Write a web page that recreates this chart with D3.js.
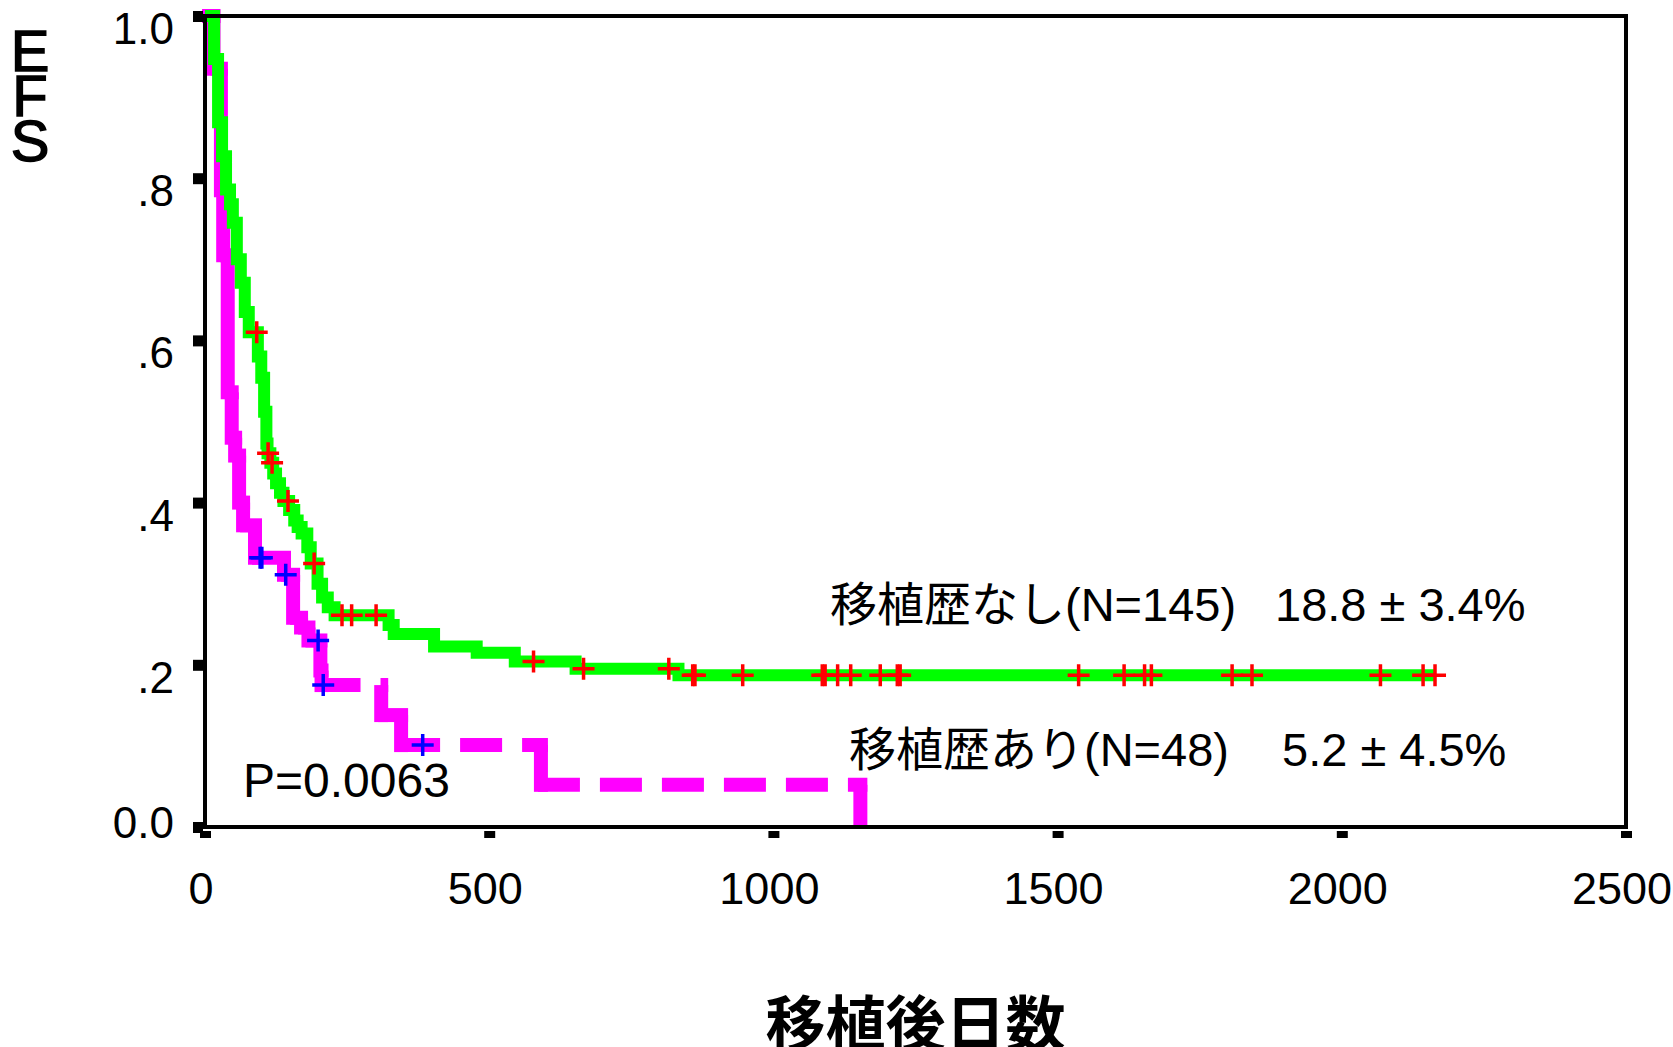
<!DOCTYPE html>
<html><head><meta charset="utf-8">
<script src="https://cdn.jsdelivr.net/npm/d3@7"></script>
<style>
html,body{margin:0;padding:0;background:#fff;}
svg{display:block;}
</style></head>
<body><svg id="chart" width="1673" height="1047"></svg>
<script>
// ---------- data ----------
const xTicks = [0, 500, 1000, 1500, 2000, 2500];
const yTicks = [0, 0.2, 0.4, 0.6, 0.8, 1.0];
const yTickLabels = ["0.0", ".2", ".4", ".6", ".8", "1.0"];

// 移植歴なし (N=145): event days and EFS after each event
const noTxTimes = [16,23,30,37,44,49,56,63,70,77,93,99,104,108,110,115,120,125,132,138,148,157,163,170,180,186,198,206,216,228,323,332,403,478,545,652,833];
const noTxSurv  = [0.947,0.869,0.827,0.786,0.768,0.745,0.700,0.671,0.635,0.610,0.580,0.554,0.512,0.473,0.461,0.449,0.436,0.424,0.412,0.402,0.391,0.378,0.370,0.362,0.345,0.325,0.300,0.283,0.271,0.261,0.249,0.238,0.2225,0.215,0.204,0.195,0.187];
const noTxCensored = [91,111,118,146,192,241,258,301,578,666,816,858,862,946,1086,1091,1113,1136,1188,1218,1223,1537,1617,1653,1665,1807,1842,2068,2143,2164];
const noTxLastDay = 2164;

// 移植歴あり (N=48)
const txTimes = [15,28,32,40,47,53,60,67,88,139,155,169,182,203,205,310,345,591,1153];
const txSurv  = [0.935,0.785,0.705,0.536,0.480,0.458,0.400,0.372,0.332,0.311,0.258,0.246,0.230,0.193,0.175,0.138,0.101,0.052,0.0];
const txCensored = [97,100,142,199,208,383];

const labelNoTx = "移植歴なし(N=145)";
const valueNoTx = "18.8 ± 3.4%";
const labelTx = "移植歴あり(N=48)";
const valueTx = "5.2 ± 4.5%";
const pText = "P=0.0063";
const xTitle = "移植後日数";
const yTitle = "EFS";

// ---------- drawing ----------
const svg = d3.select("#chart");
const L = 205, R = 1626, T = 16, B = 827;
const x = d3.scaleLinear().domain([0, 2500]).range([L, R]);
const y = d3.scaleLinear().domain([0, 1]).range([B, T]);
const latin = "'Liberation Sans', Arial, Helvetica, sans-serif";
const mixed = "'Liberation Sans', Arial, 'Noto Sans CJK JP', sans-serif";

function survAt(times, surv, t) {
  const i = d3.bisectRight(times, t);
  return i === 0 ? 1 : surv[i - 1];
}

// magenta (移植歴あり): dashed horizontals, solid verticals
const gTx = svg.append("g");
let pt = 0, ps = 1;
txTimes.forEach((t, i) => {
  const s = txSurv[i];
  gTx.append("line")
    .attr("x1", x(pt) - 3).attr("x2", x(t) + 7)
    .attr("y1", y(ps)).attr("y2", y(ps))
    .attr("stroke", "#ff00ff").attr("stroke-width", 14)
    .attr("stroke-dasharray", "42 20");
  gTx.append("line")
    .attr("x1", x(t)).attr("x2", x(t))
    .attr("y1", y(ps)).attr("y2", y(s) + (s > 0 ? 7 : 0))
    .attr("stroke", "#ff00ff").attr("stroke-width", 14);
  pt = t; ps = s;
});

// green (移植歴なし)
const greenPts = [[0, 1]].concat(noTxTimes.map((t, i) => [t, noTxSurv[i]]));
greenPts.push([noTxLastDay, noTxSurv[noTxSurv.length - 1]]);
const line = d3.line().x(d => x(d[0])).y(d => y(d[1])).curve(d3.curveStepAfter);
svg.append("path").datum(greenPts)
  .attr("d", line).attr("fill", "none")
  .attr("stroke", "#00ff00").attr("stroke-width", 12)
  .attr("stroke-linejoin", "miter");

// censor marks
const cross = "M-11,0H11M0,-11V11";
svg.append("g").selectAll("path").data(noTxCensored).join("path")
  .attr("d", cross)
  .attr("transform", d => `translate(${x(d)},${y(survAt(noTxTimes, noTxSurv, d))})`)
  .attr("stroke", "#ff0000").attr("stroke-width", 3.5).attr("fill", "none");
svg.append("g").selectAll("path").data(txCensored).join("path")
  .attr("d", cross)
  .attr("transform", d => `translate(${x(d)},${y(survAt(txTimes, txSurv, d))})`)
  .attr("stroke", "#0000ff").attr("stroke-width", 3.5).attr("fill", "none");

// frame
svg.append("rect").attr("x", L).attr("y", T).attr("width", R - L).attr("height", B - T)
  .attr("fill", "none").attr("stroke", "#000").attr("stroke-width", 4);

// y axis
const yAxis = d3.axisLeft(y).tickValues(yTicks).tickSize(10)
  .tickFormat((d, i) => yTickLabels[i]);
const gy = svg.append("g").attr("transform", `translate(${L - 2},0)`).call(yAxis);
gy.select(".domain").remove();
gy.selectAll(".tick line").attr("stroke", "#000").attr("stroke-width", 11);
gy.selectAll(".tick text").remove();
svg.append("g").selectAll("text").data(yTicks).join("text")
  .attr("x", 174)
  .attr("y", d => Math.min(y(d) + 28, B + 11))
  .attr("text-anchor", "end")
  .attr("font-family", latin).attr("font-size", 44).attr("fill", "#000")
  .text((d, i) => yTickLabels[i]);

// x axis
const xAxis = d3.axisBottom(x).tickValues(xTicks).tickSize(7).tickFormat(d3.format("d"));
const gx = svg.append("g").attr("transform", `translate(0,${B + 4})`).call(xAxis);
gx.select(".domain").remove();
gx.selectAll(".tick line").attr("stroke", "#000").attr("stroke-width", 11);
gx.selectAll(".tick text").remove();
svg.append("g").selectAll("text").data(xTicks).join("text")
  .attr("x", d => x(d) - 4).attr("y", 904)
  .attr("text-anchor", "middle")
  .attr("font-family", latin).attr("font-size", 45).attr("fill", "#000")
  .text(d => d3.format("d")(d));

// annotations
svg.append("text").attr("x", 243).attr("y", 797)
  .attr("font-family", latin).attr("font-size", 48).text(pText);
svg.append("text").attr("x", 830).attr("y", 621)
  .attr("font-family", mixed).attr("font-size", 47).text(labelNoTx);
svg.append("text").attr("x", 1275).attr("y", 621)
  .attr("font-family", latin).attr("font-size", 47).text(valueNoTx);
svg.append("text").attr("x", 849).attr("y", 766)
  .attr("font-family", mixed).attr("font-size", 47).text(labelTx);
svg.append("text").attr("x", 1282).attr("y", 766)
  .attr("font-family", latin).attr("font-size", 47).text(valueTx);

// axis titles
svg.append("text").attr("x", (L + R) / 2).attr("y", 1046)
  .attr("text-anchor", "middle")
  .attr("font-family", "'Noto Sans CJK JP', sans-serif").attr("font-weight", 700)
  .attr("font-size", 60).text(xTitle);
svg.append("text")
  .attr("x", 30).attr("y", 18)
  .attr("style", "writing-mode: vertical-rl; text-orientation: upright; letter-spacing: -20px;")
  .attr("font-family", latin).attr("font-size", 58)
  .attr("fill", "#000").attr("stroke", "#000").attr("stroke-width", 1.4)
  .text(yTitle);
</script>
</body></html>
